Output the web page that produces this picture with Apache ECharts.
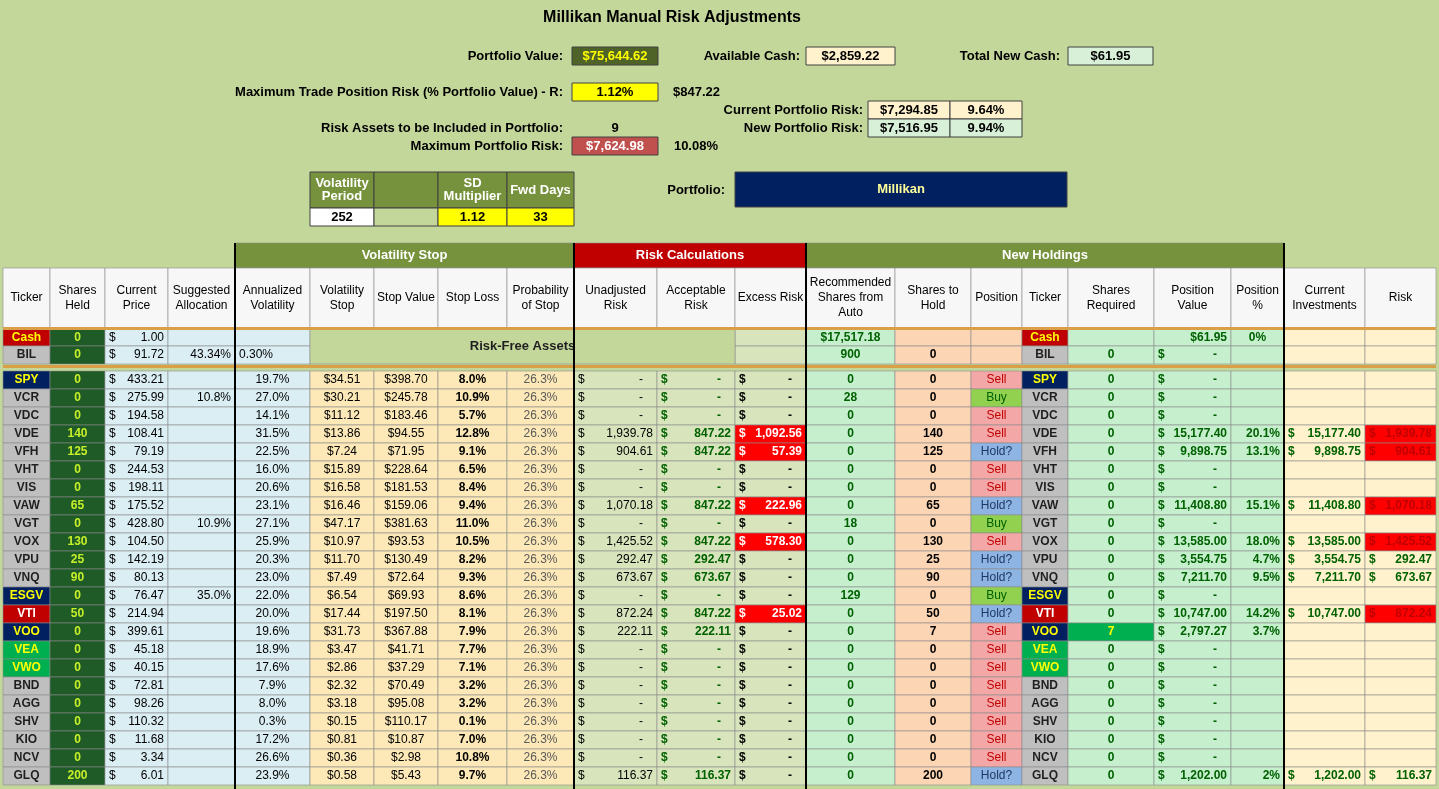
<!DOCTYPE html>
<html>
<head>
<meta charset="utf-8">
<script src="https://cdn.jsdelivr.net/npm/echarts@6/dist/echarts.min.js"></script>
<style>html,body{margin:0;padding:0;background:#c4d79b}#main{width:1439px;height:789px}</style>
</head>
<body>
<div id="main"></div>
<script>
// --- data ---
var tickers = ["SPY","VCR","VDC","VDE","VFH","VHT","VIS","VAW","VGT","VOX","VPU","VNQ","ESGV","VTI","VOO","VEA","VWO","BND","AGG","SHV","KIO","NCV","GLQ"];
var sharesHeld = [0,0,0,140,125,0,0,65,0,130,25,90,0,50,0,0,0,0,0,0,0,0,200];
var prices = [433.21,275.99,194.58,108.41,79.19,244.53,198.11,175.52,428.80,104.50,142.19,80.13,76.47,214.94,399.61,45.18,40.15,72.81,98.26,110.32,11.68,3.34,6.01];
var allocation = ["","10.8%","","","","","","","10.9%","","","","35.0%","","","","","","","","","",""];
var annVol = [19.7,27.0,14.1,31.5,22.5,16.0,20.6,23.1,27.1,25.9,20.3,23.0,22.0,20.0,19.6,18.9,17.6,7.9,8.0,0.3,17.2,26.6,23.9];
var volStop = [34.51,30.21,11.12,13.86,7.24,15.89,16.58,16.46,47.17,10.97,11.70,7.49,6.54,17.44,31.73,3.47,2.86,2.32,3.18,0.15,0.81,0.36,0.58];
var stopValue = [398.70,245.78,183.46,94.55,71.95,228.64,181.53,159.06,381.63,93.53,130.49,72.64,69.93,197.50,367.88,41.71,37.29,70.49,95.08,110.17,10.87,2.98,5.43];
var stopLoss = [8.0,10.9,5.7,12.8,9.1,6.5,8.4,9.4,11.0,10.5,8.2,9.3,8.6,8.1,7.9,7.7,7.1,3.2,3.2,0.1,7.0,10.8,9.7];
var probStop = 26.3;
var unadjRisk = [null,null,null,1939.78,904.61,null,null,1070.18,null,1425.52,292.47,673.67,null,872.24,222.11,null,null,null,null,null,null,null,116.37];
var acceptRisk = [null,null,null,847.22,847.22,null,null,847.22,null,847.22,292.47,673.67,null,847.22,222.11,null,null,null,null,null,null,null,116.37];
var excessRisk = [null,null,null,1092.56,57.39,null,null,222.96,null,578.30,null,null,null,25.02,null,null,null,null,null,null,null,null,null];
var recommended = [0,28,0,0,0,0,0,0,18,0,0,0,129,0,0,0,0,0,0,0,0,0,0];
var sharesToHold = [0,0,0,140,125,0,0,65,0,130,25,90,0,50,7,0,0,0,0,0,0,0,200];
var positions = ["Sell","Buy","Sell","Sell","Hold?","Sell","Sell","Hold?","Buy","Sell","Hold?","Hold?","Buy","Hold?","Sell","Sell","Sell","Sell","Sell","Sell","Sell","Sell","Hold?"];
var sharesRequired = [0,0,0,0,0,0,0,0,0,0,0,0,0,0,7,0,0,0,0,0,0,0,0];
var positionValue = [null,null,null,15177.40,9898.75,null,null,11408.80,null,13585.00,3554.75,7211.70,null,10747.00,2797.27,null,null,null,null,null,null,null,1202.00];
var positionPct = ["","","","20.1%","13.1%","","","15.1%","","18.0%","4.7%","9.5%","","14.2%","3.7%","","","","","","","","2%"];
var currentInv = [null,null,null,15177.40,9898.75,null,null,11408.80,null,13585.00,3554.75,7211.70,null,10747.00,null,null,null,null,null,null,null,null,1202.00];
var riskVals = [null,null,null,1939.78,904.61,null,null,1070.18,null,1425.52,292.47,673.67,null,872.24,null,null,null,null,null,null,null,null,116.37];
var riskFlag = ["VDE","VFH","VAW","VOX","VTI"];
var headers = ["Ticker","Shares\nHeld","Current\nPrice","Suggested\nAllocation","Annualized\nVolatility","Volatility\nStop","Stop Value","Stop Loss","Probability\nof Stop","Unadjusted\nRisk","Acceptable\nRisk","Excess Risk","Recommended\nShares from\nAuto","Shares to\nHold","Position","Ticker","Shares\nRequired","Position\nValue","Position\n%","Current\nInvestments","Risk"];

// --- layout ---
var colEdges = [3,50,105,168,235,310,374,438,507,574,657,735,806,895,971,1022,1068,1154,1231,1284,1365,1436];
var rowTop = 371, rowH = 18;
var FONT = '"Liberation Sans Narrow","Liberation Sans",Arial,sans-serif';

function fmt(v){ return v.toLocaleString('en-US',{minimumFractionDigits:2,maximumFractionDigits:2}); }

var cells = [];
function cell(c0, c1, y0, y1, o){
  o.x0 = colEdges[c0]; o.x1 = colEdges[c1]; o.y0 = y0; o.y1 = y1;
  cells.push(o);
}
var tickStyle = {SPY:['#002060','#ffff00'],VOO:['#002060','#ffff00'],ESGV:['#002060','#ffff00'],VEA:['#00b050','#ffff00'],VWO:['#00b050','#ffff00'],VTI:['#c00000','#ffffff'],Cash:['#c00000','#ffff00']};
function tk(t){ return tickStyle[t] || ['#bfbfbf','#1f1f1f']; }

// header rows
cell(4,9,243,268,{t:"Volatility Stop",bg:'#76923c',fg:'#fff',b:1,fs:13});
cell(9,12,243,268,{t:"Risk Calculations",bg:'#c00000',fg:'#fff',b:1,fs:13});
cell(12,19,243,268,{t:"New Holdings",bg:'#76923c',fg:'#fff',b:1,fs:13});
headers.forEach(function(h,i){ cell(i,i+1,268,328,{t:h,bg:'#f7f7f7',fg:'#000',fs:12,lh:15}); });

// risk free rows
var rfRows = [["Cash",329,346],["BIL",346,364]];
rfRows.forEach(function(r,k){
  var s = tk(r[0]);
  cell(0,1,r[1],r[2],{t:r[0],bg:s[0],fg:s[1],b:1});
  cell(1,2,r[1],r[2],{t:"0",bg:'#1e5b26',fg:'#c6ef2a',b:1});
  cell(2,3,r[1],r[2],{d:1,t:k?"91.72":"1.00",bg:'#dbeef4',fg:'#000'});
  cell(3,4,r[1],r[2],{t:k?"43.34%":"",bg:'#dbeef4',fg:'#000',al:'right'});
  cell(4,5,r[1],r[2],{t:k?"0.30%":"",bg:'#dbeef4',fg:'#000',al:'left'});
  cell(11,12,r[1],r[2],{t:"",bg:'#d8e4bc'});
  cell(12,13,r[1],r[2],{t:k?"900":"$17,517.18",bg:'#c6efce',fg:'#006100',b:1});
  cell(13,14,r[1],r[2],{t:k?"0":"",bg:'#fcd5b4',fg:'#000',b:1});
  cell(14,15,r[1],r[2],{t:"",bg:'#fcd5b4'});
  var s2 = tk(r[0]);
  cell(15,16,r[1],r[2],{t:r[0],bg:s2[0],fg:s2[1],b:1});
  cell(16,17,r[1],r[2],{t:k?"0":"",bg:'#c6efce',fg:'#006100',b:1});
  if(k) cell(17,18,r[1],r[2],{d:1,t:"-",bg:'#c6efce',fg:'#006100',b:1});
  else cell(17,18,r[1],r[2],{t:"$61.95",bg:'#c6efce',fg:'#006100',b:1,al:'right'});
  cell(18,19,r[1],r[2],{t:k?"":"0%",bg:'#c6efce',fg:'#006100',b:1});
  cell(19,20,r[1],r[2],{t:"",bg:'#fff2cc'});
  cell(20,21,r[1],r[2],{t:"",bg:'#fff2cc'});
});
cell(5,11,329,364,{t:"Risk-Free Assets",bg:'#c4d79b',fg:'#1f1f1f',b:1,fs:13});

// asset rows
tickers.forEach(function(t,i){
  var y0 = rowTop + i*rowH, y1 = y0 + rowH, s = tk(t);
  cell(0,1,y0,y1,{t:t,bg:s[0],fg:s[1],b:1});
  cell(1,2,y0,y1,{t:String(sharesHeld[i]),bg:'#1e5b26',fg:'#c6ef2a',b:1});
  cell(2,3,y0,y1,{d:1,t:fmt(prices[i]),bg:'#dbeef4',fg:'#000'});
  cell(3,4,y0,y1,{t:allocation[i],bg:'#dbeef4',fg:'#000',al:'right'});
  cell(4,5,y0,y1,{t:annVol[i].toFixed(1)+"%",bg:'#dbeef4',fg:'#000'});
  cell(5,6,y0,y1,{t:"$"+fmt(volStop[i]),bg:'#fde9b8',fg:'#000'});
  cell(6,7,y0,y1,{t:"$"+fmt(stopValue[i]),bg:'#fde9b8',fg:'#000'});
  cell(7,8,y0,y1,{t:stopLoss[i].toFixed(1)+"%",bg:'#fde9b8',fg:'#000',b:1});
  cell(8,9,y0,y1,{t:probStop.toFixed(1)+"%",bg:'#fde9b8',fg:'#595959'});
  cell(9,10,y0,y1,{d:1,t:unadjRisk[i]==null?"-":fmt(unadjRisk[i]),bg:'#d8e4bc',fg:'#000'});
  cell(10,11,y0,y1,{d:1,t:acceptRisk[i]==null?"-":fmt(acceptRisk[i]),bg:'#d8e4bc',fg:'#006100',b:1});
  var ex = excessRisk[i];
  cell(11,12,y0,y1,{d:1,t:ex==null?"-":fmt(ex),bg:ex==null?'#d8e4bc':'#ff0000',fg:ex==null?'#000':'#ffffff',b:1});
  cell(12,13,y0,y1,{t:String(recommended[i]),bg:'#c6efce',fg:'#006100',b:1});
  cell(13,14,y0,y1,{t:String(sharesToHold[i]),bg:'#fcd5b4',fg:'#000',b:1});
  var p = positions[i];
  var ps = p=="Buy"?['#92d050','#006100']:(p=="Sell"?['#f4a7a7','#c00000']:['#8db4e2','#1f3864']);
  cell(14,15,y0,y1,{t:p,bg:ps[0],fg:ps[1]});
  cell(15,16,y0,y1,{t:t,bg:s[0],fg:s[1],b:1});
  cell(16,17,y0,y1,{t:String(sharesRequired[i]),bg:sharesRequired[i]?'#00b050':'#c6efce',fg:sharesRequired[i]?'#ffff00':'#006100',b:1});
  cell(17,18,y0,y1,{d:1,t:positionValue[i]==null?"-":fmt(positionValue[i]),bg:'#c6efce',fg:'#006100',b:1});
  cell(18,19,y0,y1,{t:positionPct[i],bg:'#c6efce',fg:'#006100',b:1,al:'right'});
  cell(19,20,y0,y1,{d:currentInv[i]!=null,t:currentInv[i]==null?"":fmt(currentInv[i]),bg:'#fff2cc',fg:'#006100',b:1});
  var flag = riskFlag.indexOf(t) >= 0;
  cell(20,21,y0,y1,{d:riskVals[i]!=null,t:riskVals[i]==null?"":fmt(riskVals[i]),bg:flag?'#ff0000':'#fff2cc',fg:flag?'#c00000':'#006100',b:1});
});

function renderItem(params, api){
  var c = cells[params.dataIndex];
  var p0 = api.coord([c.x0, c.y0]), p1 = api.coord([c.x1, c.y1]);
  var w = p1[0]-p0[0], h = p1[1]-p0[1], cy = p0[1]+h/2;
  var st = {fill:c.fg||'#000', font:(c.b?'bold ':'')+(c.fs||12)+'px '+FONT, verticalAlign:'middle'};
  var kids = [{type:'rect',shape:{x:p0[0],y:p0[1],width:w,height:h},style:{fill:c.bg,stroke:'#8c8c8c',lineWidth:0.6}}];
  if(c.d){
    kids.push({type:'text',style:Object.assign({},st,{text:'$',x:p0[0]+4,y:cy,align:'left'})});
    kids.push({type:'text',style:Object.assign({},st,{text:c.t,x:p1[0]-(c.t=='-'?14:4),y:cy,align:'right'})});
  } else if(c.t){
    var al = c.al||'center';
    var x = al=='center'?p0[0]+w/2:(al=='right'?p1[0]-4:p0[0]+4);
    kids.push({type:'text',style:Object.assign({},st,{text:c.t,x:x,y:cy,align:al,lineHeight:c.lh||14})});
  }
  return {type:'group',children:kids};
}

var chart = echarts.init(document.getElementById('main'));
function txt(x,y,t,o){ return Object.assign({type:'text',x:x,y:y,style:{text:t,font:'bold 13px '+FONT,fill:'#000',align:'right',verticalAlign:'middle'}},o||{}); }
function box(x0,x1,y0,y1,fill,t,fg){
  return {type:'group',children:[
    {type:'rect',shape:{x:x0,y:y0,width:x1-x0,height:y1-y0},style:{fill:fill,stroke:'#404040',lineWidth:1}},
    {type:'text',x:(x0+x1)/2,y:(y0+y1)/2,style:{text:t,font:'bold 13px '+FONT,fill:fg||'#000',align:'center',verticalAlign:'middle'}}
  ]};
}
var graphics = [
  txt(672,18,"Millikan Manual Risk Adjustments",{style:{text:"Millikan Manual Risk Adjustments",font:'bold 16px '+FONT,fill:'#000',align:'center',verticalAlign:'middle'}}),
  txt(563,56,"Portfolio Value:"), box(572,658,47,65,'#4f6228',"$75,644.62",'#ffff00'),
  txt(800,56,"Available Cash:"), box(806,895,47,65,'#fff2cc',"$2,859.22"),
  txt(1060,56,"Total New Cash:"), box(1068,1153,47,65,'#d8f0d8',"$61.95"),
  txt(563,92,"Maximum Trade Position Risk (% Portfolio Value) - R:"), box(572,658,83,101,'#ffff00',"1.12%"),
  txt(720,92,"$847.22"),
  txt(863,110,"Current Portfolio Risk:"), box(868,950,101,119,'#fff2cc',"$7,294.85"), box(950,1022,101,119,'#fff2cc',"9.64%"),
  txt(863,128,"New Portfolio Risk:"), box(868,950,119,137,'#d8f0d8',"$7,516.95"), box(950,1022,119,137,'#d8f0d8',"9.94%"),
  txt(563,128,"Risk Assets to be Included in Portfolio:"), txt(615,128,"9",{style:{text:"9",font:'bold 13px '+FONT,fill:'#000',align:'center',verticalAlign:'middle'}}),
  txt(563,146,"Maximum Portfolio Risk:"), box(572,658,137,155,'#c0504d',"$7,624.98",'#ffffff'),
  txt(718,146,"10.08%"),
  box(310,374,172,208,'#76923c',"Volatility\nPeriod",'#ffffff'), box(374,438,172,208,'#76923c',""),
  box(438,507,172,208,'#76923c',"SD\nMultiplier",'#ffffff'), box(507,574,172,208,'#76923c',"Fwd Days",'#ffffff'),
  box(310,374,208,226,'#ffffff',"252"), box(374,438,208,226,'#c4d79b',""),
  box(438,507,208,226,'#ffff00',"1.12"), box(507,574,208,226,'#ffff00',"33"),
  txt(725,190,"Portfolio:"), box(735,1067,172,207,'#002060',"Millikan",'#ffff99'),
  {type:'rect',shape:{x:3,y:327,width:1433,height:3},style:{fill:'#d9a048'},z:100},
  {type:'rect',shape:{x:3,y:365,width:1433,height:3},style:{fill:'#d9a048'},z:100},
  {type:'rect',shape:{x:234,y:243,width:2,height:546},style:{fill:'#000'},z:100},
  {type:'rect',shape:{x:573,y:243,width:2,height:546},style:{fill:'#000'},z:100},
  {type:'rect',shape:{x:805,y:243,width:2,height:546},style:{fill:'#000'},z:100},
  {type:'rect',shape:{x:1283,y:243,width:2,height:546},style:{fill:'#000'},z:100}
];

chart.setOption({
  backgroundColor:'#c4d79b',
  animation:false,
  grid:{left:0,right:0,top:0,bottom:0},
  xAxis:{type:'value',min:0,max:1439,show:false},
  yAxis:{type:'value',min:0,max:789,inverse:true,show:false},
  graphic:graphics,
  series:[{type:'custom',renderItem:renderItem,clip:false,
    data:cells.map(function(c){ return [c.x0,c.x1,c.y0,c.y1]; })}]
});
</script>
</body>
</html>
